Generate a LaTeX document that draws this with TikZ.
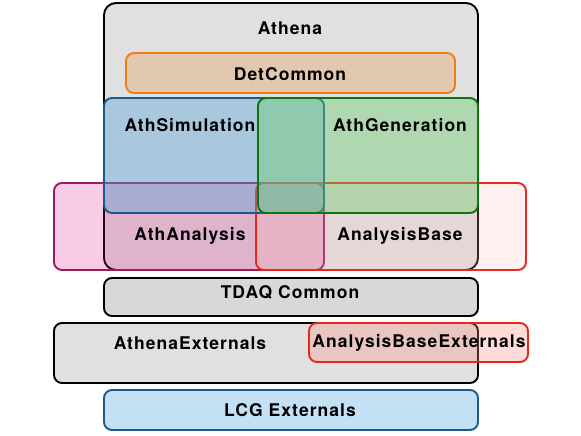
\documentclass[tikz,border=0pt]{standalone}
\usepackage{fontspec}
\setmainfont{TeX Gyre Heros}[LetterSpace=6]
\usepackage{tikz}
\usetikzlibrary{positioning}
\definecolor{athgray}{HTML}{E0E0E0}
\definecolor{tdaqgray}{HTML}{D8D8D8}
\definecolor{dettan}{HTML}{E3C8B0}
\definecolor{detorange}{HTML}{F07D14}
\definecolor{simblue}{HTML}{57A5DC}
\definecolor{simedge}{HTML}{1B5A8C}
\definecolor{gengreen}{HTML}{69CD69}
\definecolor{genedge}{HTML}{0C780C}
\definecolor{anapink}{HTML}{DC0078}
\definecolor{anaedge}{HTML}{9C1A5C}
\definecolor{baserose}{HTML}{FFB4B4}
\definecolor{baseedge}{HTML}{E8281C}
\definecolor{extrose}{HTML}{FF8A7D}
\definecolor{lcgblue}{HTML}{C4E0F4}

\begin{document}
\begin{tikzpicture}[
        x=1pt, y=-1pt,
        box/.style={rectangle, rounded corners=8pt, draw=#1, line width=1.9pt,
            inner sep=0pt},
        layer/.style={font=\fontsize{17.5}{20}\selectfont\bfseries, text=black,
            inner sep=0pt}
    ]
        \useasboundingbox (0,0) rectangle (581,436);
        % release stack
        \node[box=black, rounded corners=12pt, fill=athgray,
            minimum width=374pt, minimum height=267pt] (athena) at (291,136.5) {};
        \node[box=detorange, fill=dettan,
            minimum width=329pt, minimum height=40pt] (detcommon) at (290.5,73) {};
        \node[box=anaedge, fill=anapink, fill opacity=0.2,
            minimum width=270pt, minimum height=87pt] (athanalysis) at (189,226.5) {};
        \node[box=baseedge, fill=baserose, fill opacity=0.2,
            minimum width=270pt, minimum height=87pt] (analysisbase) at (391,226.5) {};
        \node[box=simedge, fill=simblue, fill opacity=0.4,
            minimum width=220pt, minimum height=115pt] (athsim) at (214,155.5) {};
        \node[box=genedge, fill=gengreen, fill opacity=0.4,
            minimum width=220pt, minimum height=115pt] (athgen) at (368,155.5) {};
        % common and externals
        \node[box=black, fill=tdaqgray,
            minimum width=374pt, minimum height=38pt] (tdaq) at (291,297) {};
        \node[box=black, fill=athgray,
            minimum width=424pt, minimum height=60pt] (athext) at (266,353) {};
        \node[box=baseedge, fill=extrose, fill opacity=0.3,
            minimum width=219pt, minimum height=39pt] (abext) at (418.5,342.5) {};
        \node[box=simedge, fill=lcgblue,
            minimum width=374pt, minimum height=40pt] (lcg) at (291,410) {};
        % labels
        \node[layer] (athenalbl) at (290,28) {Athena};
        \node[layer] (detcommonlbl) at (290,74) {DetCommon};
        \node[layer] (athsimlbl) at (190,125) {AthSimulation};
        \node[layer] (athgenlbl) at (400,125) {AthGeneration};
        \node[layer] (athanalysislbl) at (190,236) {AthAnalysis};
        \node[layer] (analysisbaselbl) at (400,236) {AnalysisBase};
        \node[layer] (tdaqlbl) at (290,292) {TDAQ Common};
        \node[layer] (athextlbl) at (190,343) {AthenaExternals};
        \node[layer] (abextlbl) at (419,343) {AnalysisBaseExternals};
        \node[layer] (lcglbl) at (290,410) {LCG Externals};
    \end{tikzpicture}
\end{document}
